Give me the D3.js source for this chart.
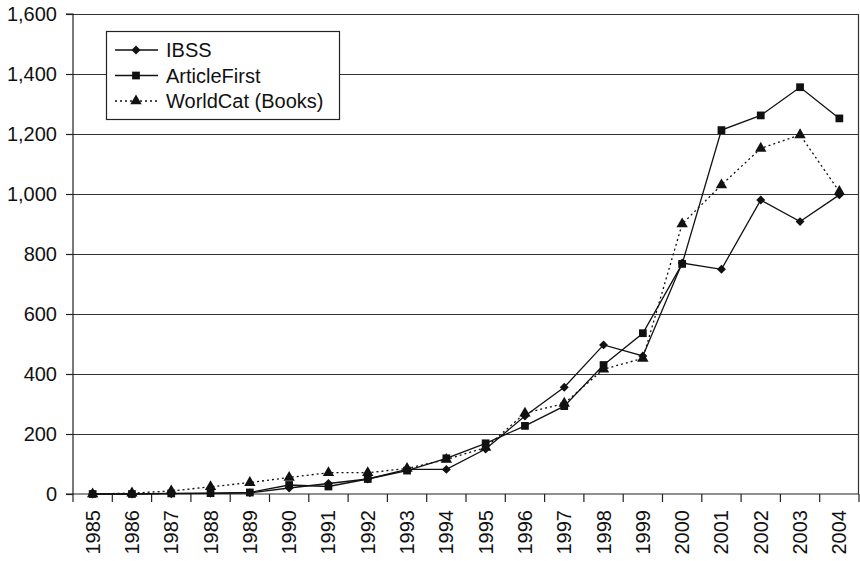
<!DOCTYPE html>
<html>
<head>
<meta charset="utf-8">
<script src="https://cdn.jsdelivr.net/npm/d3@7"></script>
<style>
  body { margin: 0; background: #fff; }
  text { font-family: "Liberation Sans", Arial, sans-serif; }
</style>
</head>
<body>
<div id="chart"></div>
<script>
const years = ['1985', '1986', '1987', '1988', '1989', '1990', '1991', '1992', '1993', '1994',
    '1995', '1996', '1997', '1998', '1999', '2000', '2001', '2002', '2003', '2004']

const ibss = [0, 0, 1, 2, 4, 20, 35, 50, 82, 82, 150, 260, 356, 497, 460, 770, 749, 980, 908, 997]
const articleFirst = [0, 0, 2, 3, 5, 30, 25, 50, 78, 119, 169, 227, 293, 430, 536, 767, 1213, 1262, 1356, 1252]
const worldCat = [0, 3, 10, 24, 38, 55, 71, 71, 85, 115, 155, 269, 302, 416, 452, 900, 1030, 1152, 1197, 1008]

const yTicks = [0, 200, 400, 600, 800, 1000, 1200, 1400, 1600]

// diamond = square turned 45 degrees
const series = [
    {name: 'IBSS', values: ibss, symbol: d3.symbolSquare, size: 40, rot: 45, dash: null},
    {name: 'ArticleFirst', values: articleFirst, symbol: d3.symbolSquare, size: 60, rot: 0, dash: null},
    {name: 'WorldCat (Books)', values: worldCat, symbol: d3.symbolTriangle, size: 56, rot: 0, dash: '2,3'}
]

const W = 860, H = 561
const margin = {top: 14, right: 1, bottom: 67, left: 73},
    width = W - margin.left - margin.right,
    height = H - margin.top - margin.bottom

const svg = d3.select('#chart').append('svg')
    .attr('width', W)
    .attr('height', H)

const g = svg.append('g')
    .attr('transform', `translate(${margin.left},${margin.top})`)

const x = d3.scaleBand()
    .domain(years)
    .range([0, width])

const y = d3.scaleLinear()
    .domain([0, 1600])
    .range([height, 0])

// gridlines
g.append('g')
    .selectAll('line')
    .data(yTicks.filter(d => d > 0))
    .join('line')
    .attr('x1', 0)
    .attr('x2', width)
    .attr('y1', d => Math.round(y(d)) + 0.5)
    .attr('y2', d => Math.round(y(d)) + 0.5)
    .attr('stroke', '#333')
    .attr('stroke-width', 1.2)

// right border
g.append('line')
    .attr('x1', width - 0.5).attr('x2', width - 0.5)
    .attr('y1', y(1600)).attr('y2', height)
    .attr('stroke', '#333')
    .attr('stroke-width', 1.2)

// y axis
const yAxis = g.append('g')
    .call(d3.axisLeft(y).tickValues(yTicks).tickSize(7).tickPadding(9).tickFormat(d3.format(',')))
yAxis.selectAll('text').attr('font-size', 20).attr('fill', '#111')
yAxis.selectAll('line, path').attr('stroke', '#222').attr('stroke-width', 1.2)
yAxis.select('.domain').attr('d', `M-7,${height}H0V0H-7`)

// x axis with ticks at band edges
const xAxis = g.append('g')
    .attr('transform', `translate(0,${height})`)
xAxis.append('line')
    .attr('x1', 0).attr('x2', width)
    .attr('stroke', '#222').attr('stroke-width', 1.2)
xAxis.selectAll('.edge')
    .data(years.concat(['end']))
    .join('line')
    .attr('class', 'edge')
    .attr('x1', (d, i) => i * x.step())
    .attr('x2', (d, i) => i * x.step())
    .attr('y1', 0)
    .attr('y2', 8)
    .attr('stroke', '#222').attr('stroke-width', 1.2)
xAxis.selectAll('.lab')
    .data(years)
    .join('text')
    .attr('class', 'lab')
    .attr('transform', d => `translate(${x(d) + x.bandwidth() / 2},16) rotate(-90)`)
    .attr('text-anchor', 'end')
    .attr('dy', '0.35em')
    .attr('font-size', 20)
    .attr('fill', '#111')
    .text(d => d)

// lines
const line = d3.line()
    .x((d, i) => x(years[i]) + x.bandwidth() / 2)
    .y(d => y(d))

for (let s of series) {
    g.append('path')
        .datum(s.values)
        .attr('fill', 'none')
        .attr('stroke', '#111')
        .attr('stroke-width', 1.3)
        .attr('stroke-dasharray', s.dash)
        .attr('d', line)

    g.append('g')
        .selectAll('path')
        .data(s.values)
        .join('path')
        .attr('transform', (d, i) => `translate(${x(years[i]) + x.bandwidth() / 2},${y(d)}) rotate(${s.rot})`)
        .attr('d', d3.symbol().type(s.symbol).size(s.size))
        .attr('fill', '#111')
}

// legend
const legend = g.append('g')
    .attr('transform', `translate(${106 - margin.left},${31 - margin.top})`)

legend.append('rect')
    .attr('x', 0.5).attr('y', 0.5)
    .attr('width', 233).attr('height', 88)
    .attr('fill', '#fff')
    .attr('stroke', '#222')
    .attr('stroke-width', 1.2)

const rows = legend.selectAll('.row')
    .data(series)
    .join('g')
    .attr('class', 'row')
    .attr('transform', (d, i) => `translate(0,${19 + i * 25.5})`)

rows.append('line')
    .attr('x1', 9).attr('x2', 52)
    .attr('stroke', '#111')
    .attr('stroke-width', 1.3)
    .attr('stroke-dasharray', d => d.dash)

rows.append('path')
    .attr('transform', d => `translate(30,0) rotate(${d.rot})`)
    .attr('d', d => d3.symbol().type(d.symbol).size(d.size)())
    .attr('fill', '#111')

rows.append('text')
    .attr('x', 60)
    .attr('dy', '0.35em')
    .attr('font-size', 20)
    .attr('fill', '#111')
    .text(d => d.name)
</script>
</body>
</html>
